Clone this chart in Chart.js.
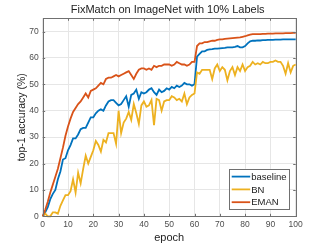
<!DOCTYPE html>
<html>
<head>
<meta charset="utf-8">
<script src="https://cdn.jsdelivr.net/npm/chart.js@4.4.0/dist/chart.umd.min.js"></script>
<style>
html, body { margin: 0; padding: 0; background: #fff; }
canvas { display: block; }
</style>
</head>
<body>
<canvas id="chart" width="327" height="245"></canvas>
<script>
var titleText = 'FixMatch on ImageNet with 10% Labels';
var xTitle = 'epoch';
var yTitle = 'top-1 accuracy (%)';

var epochs = [0, 1, 2, 3, 4, 5, 6, 7, 8, 9, 10, 11, 12, 13, 14, 15, 16, 17, 18, 19,
  20, 21, 22, 23, 24, 25, 26, 27, 28, 29, 30, 31, 32, 33, 34, 35, 36, 37, 38, 39,
  40, 41, 42, 43, 44, 45, 46, 47, 48, 49, 50, 51, 52, 53, 54, 55, 56, 57, 58, 59,
  60, 61, 62, 63, 64, 65, 66, 67, 68, 69, 70, 71, 72, 73, 74, 75, 76, 77, 78, 79,
  80, 81, 82, 83, 84, 85, 86, 87, 88, 89, 90, 91, 92, 93, 94, 95, 96, 97, 98, 99, 100];

var baseline = [0, 1.5, 3.5, 6.5, 8.5, 10, 14, 17, 21.5, 22, 25, 27, 29.5, 29.5, 31, 33, 33.5, 33.5, 35.5, 37.5,
  37.5, 39, 40, 40.5, 40, 42, 43.5, 44, 44, 43, 42, 42.5, 44, 45.5, 41.5, 46, 46.5, 48, 44.5, 47,
  46.5, 47, 48, 48.5, 47, 46, 48, 47, 47.5, 48.5, 48, 49, 48.5, 49.5, 49, 49.5, 50.5, 50, 50, 49.5,
  50, 60.5, 61.5, 62.5, 62.5, 63, 63.2, 63.3, 63.5, 63.5, 63.6, 63.7, 63.8, 64, 64, 64, 64.2, 64.5, 64, 64,
  64.5, 65.5, 66.3, 66.5, 66.5, 66.6, 66.6, 66.7, 66.7, 66.8, 66.8, 66.8, 66.9, 66.9, 66.9, 67, 67, 67, 67, 67, 67];

var bn = [0, 1, 0, 0, 1.5, 1.5, 1, 4, 6, 8, 8, 9.5, 14, 9, 16.5, 12.5, 18, 23, 20, 22.5,
  25, 28.5, 27, 24.5, 29, 28, 31.5, 31.5, 31.5, 27.5, 40, 31.5, 35.5, 37, 39.5, 36.5, 42.5, 39, 35, 42,
  43.5, 41.5, 42, 44, 34.5, 44.5, 44, 40, 43.5, 44, 44, 45.5, 45, 44, 44.5, 43.5, 46.5, 42.5, 45, 46,
  46.5, 54.5, 54, 55.5, 55.5, 55.5, 55.5, 52, 56, 57.5, 55, 56.5, 55.5, 51.5, 55, 56.5, 53.5, 56.5, 55, 57.5,
  55, 56.5, 57, 58.5, 57.5, 58, 57.5, 58.5, 58, 58, 58.5, 58.5, 59, 58.5, 58.5, 57, 54, 58, 54.5, 57, 57.5];

var eman = [0, 2.5, 5.5, 9, 12, 15, 18, 22, 26, 30.5, 34, 37, 39.5, 41, 42.5, 43.5, 45, 46.5, 45, 47.5,
  48, 48.5, 49.5, 50.5, 50, 52, 52.5, 52.5, 53, 53.5, 53, 53.5, 54, 54.5, 55, 53.5, 52, 54, 55.5, 56,
  56, 55.5, 56, 55.5, 57, 56.5, 57, 57, 57.5, 57.5, 57.5, 57, 57.5, 58.5, 58, 57.5, 57.5, 57, 57.5, 58.5,
  58.5, 64.5, 65.5, 65.5, 66, 66, 66.3, 66.5, 66.5, 66.8, 67, 67, 67.2, 67.3, 67.4, 67.5, 67.6, 67.7, 67.8, 68,
  68.2, 68.5, 68.8, 69, 69, 69, 69, 69.1, 69.1, 69.2, 69.2, 69.2, 69.3, 69.3, 69.3, 69.3, 69.4, 69.4, 69.4, 69.5, 69.5];

var seriesNames = ['baseline', 'BN', 'EMAN'];
var seriesColors = ['#0072BD', '#EDB120', '#D95319'];

var FONT = "'Liberation Sans', Arial, Helvetica, sans-serif";

function points(values) {
  return values.map(function(v, i) { return { x: epochs[i], y: v }; });
}

// MATLAB-style box, inward ticks, title and legend
var decorations = {
  id: 'decorations',
  afterDraw: function(chart) {
    var ctx = chart.ctx;
    var a = chart.chartArea;
    var xs = chart.scales.x, ys = chart.scales.y;
    var tl = 2.5;
    ctx.save();
    ctx.strokeStyle = '#707070';
    ctx.lineWidth = 1;
    ctx.strokeRect(Math.round(a.left) + 0.5, Math.round(a.top) + 0.5,
      Math.round(a.right - a.left), Math.round(a.bottom - a.top));
    ctx.beginPath();
    xs.ticks.forEach(function(t) {
      var px = Math.round(xs.getPixelForValue(t.value)) + 0.5;
      ctx.moveTo(px, a.bottom); ctx.lineTo(px, a.bottom - tl);
      ctx.moveTo(px, a.top); ctx.lineTo(px, a.top + tl);
    });
    ys.ticks.forEach(function(t) {
      var py = Math.round(ys.getPixelForValue(t.value)) + 0.5;
      ctx.moveTo(a.left, py); ctx.lineTo(a.left + tl, py);
      ctx.moveTo(a.right, py); ctx.lineTo(a.right - tl, py);
    });
    ctx.stroke();

    // title
    ctx.fillStyle = '#222';
    ctx.font = '11px ' + FONT;
    ctx.textAlign = 'center';
    ctx.textBaseline = 'middle';
    ctx.fillText(titleText, (a.left + a.right) / 2 - 1.5, 10);

    // legend box
    var bx = a.right - 66.5, by = a.bottom - 47.5, bw = 59.5, bh = 40;
    ctx.fillStyle = '#fff';
    ctx.fillRect(bx, by, bw, bh);
    ctx.strokeStyle = '#707070';
    ctx.strokeRect(Math.round(bx) + 0.5, Math.round(by) + 0.5, Math.round(bw), Math.round(bh));
    ctx.font = '9.5px ' + FONT;
    ctx.textAlign = 'left';
    chart.data.datasets.forEach(function(ds, i) {
      var ly = by + 7.8 + i * 12.8;
      ctx.strokeStyle = ds.borderColor;
      ctx.lineWidth = 1.8;
      ctx.beginPath();
      ctx.moveTo(bx + 2.5, ly); ctx.lineTo(bx + 21, ly);
      ctx.stroke();
      ctx.fillStyle = '#222';
      ctx.fillText(ds.label, bx + 22, ly + 0.5);
    });
    ctx.restore();
  }
};

var datasets = [baseline, bn, eman].map(function(values, i) {
  return {
    label: seriesNames[i],
    data: points(values),
    borderColor: seriesColors[i],
    backgroundColor: seriesColors[i],
    borderWidth: 1.8,
    pointRadius: 0,
    tension: 0,
    fill: false,
    clip: 3,
    order: 3 - i
  };
});

new Chart(document.getElementById('chart'), {
  type: 'line',
  data: { datasets: datasets },
  plugins: [decorations],
  options: {
    responsive: false,
    animation: false,
    devicePixelRatio: 1,
    layout: { padding: { left: 0, right: 31.3, top: 18.3, bottom: 0 } },
    plugins: {
      legend: { display: false },
      title: { display: false },
      tooltip: { enabled: false }
    },
    scales: {
      x: {
        type: 'linear',
        min: 0,
        max: 100,
        afterFit: function(s) { s.height = 28.7; },
        border: { display: false },
        grid: { color: '#e6e6e6', lineWidth: 1, drawTicks: false },
        ticks: {
          stepSize: 10,
          padding: 3,
          maxRotation: 0,
          autoSkip: false,
          color: '#4d4d4d',
          font: { family: FONT, size: 8.5 }
        },
        title: {
          display: true,
          text: xTitle,
          color: '#222',
          padding: { top: 0, bottom: 0 },
          font: { family: FONT, size: 11 }
        }
      },
      y: {
        type: 'linear',
        min: 0,
        max: 75,
        afterFit: function(s) { s.width = 42.7; },
        afterBuildTicks: function(s) {
          s.ticks = s.ticks.filter(function(t) { return t.value % 10 === 0; });
        },
        border: { display: false },
        grid: { color: '#e6e6e6', lineWidth: 1, drawTicks: false },
        ticks: {
          stepSize: 10,
          padding: 4,
          color: '#4d4d4d',
          font: { family: FONT, size: 8.5 }
        },
        title: {
          display: true,
          text: yTitle,
          color: '#222',
          padding: { top: 16, bottom: 0 },
          font: { family: FONT, size: 10.5 }
        }
      }
    }
  }
});
</script>
</body>
</html>
